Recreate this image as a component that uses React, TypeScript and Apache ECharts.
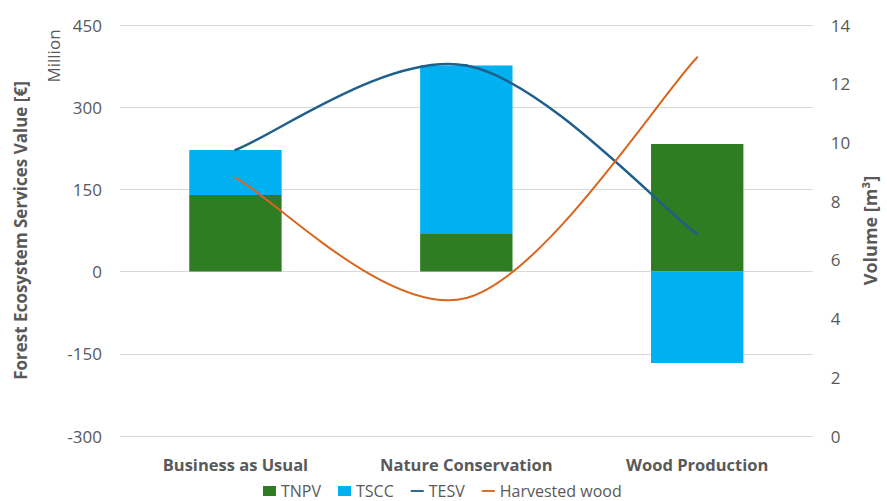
import React, { useEffect, useRef } from "react";
import * as echarts from "echarts";

const categories = ["Business as Usual", "Nature Conservation", "Wood Production"];
const tnpv = [140, 70, 233];
const tscc = [82, 306, -167];
const tesv = [222, 376, 68];
const harvestedWood = [8.8, 4.7, 12.9];
const leftTicks = { min: -300, max: 450, interval: 150 };
const rightTicks = { min: 0, max: 14, interval: 2 };

const FONT = "Open Sans";
const GRAY = "#595959";
const GREEN = "#2E7D23";
const BLUE = "#00B0F0";
const NAVY = "#1F5F8B";
const ORANGE = "#D9661F";

// Spline (Catmull-Rom, like a spreadsheet "smoothed line") drawn through the axis scales
function splineSeries(name: string, values: number[], color: string, width: number, yAxisIndex: number) {
  return {
    name,
    type: "custom",
    yAxisIndex,
    silent: true,
    z: 10,
    zlevel: 0,
    itemStyle: { color },
    data: values.map((v, i) => [i, v]),
    encode: { x: 0, y: 1 },
    renderItem: (params: any, api: any) => {
      const i = params.dataIndex;
      const n = values.length;
      if (i >= n - 1) return null;
      const pt = (k: number) => {
        const j = Math.max(0, Math.min(n - 1, k));
        return api.coord([j, values[j]]);
      };
      const p0 = pt(i - 1);
      const p1 = pt(i);
      const p2 = pt(i + 1);
      const p3 = pt(i + 2);
      return {
        type: "bezierCurve",
        z2: 10,
        shape: {
          x1: p1[0],
          y1: p1[1],
          cpx1: p1[0] + (p2[0] - p0[0]) / 6,
          cpy1: p1[1] + (p2[1] - p0[1]) / 6,
          cpx2: p2[0] - (p3[0] - p1[0]) / 6,
          cpy2: p2[1] - (p3[1] - p1[1]) / 6,
          x2: p2[0],
          y2: p2[1],
        },
        style: { stroke: color, lineWidth: width, fill: "none", lineCap: "round" },
      };
    },
  };
}

export default function App() {
  const ref = useRef<HTMLDivElement>(null);
  useEffect(() => {
    if (!ref.current) return;
    const chart = echarts.init(ref.current, null, { renderer: "svg" });
    const lineIcon = "path://M0,0 L14,0 L14,2 L0,2 Z";
    chart.setOption({
      animation: false,
      textStyle: { fontFamily: FONT },
      grid: { left: 120, right: 65, top: 25, bottom: 65, containLabel: false },
      legend: {
        bottom: -3,
        left: 258,
        itemGap: 17,
        itemWidth: 13,
        itemHeight: 10,
        textStyle: { color: GRAY, fontSize: 16, fontFamily: FONT },
        data: [
          { name: "TNPV", icon: "rect" },
          { name: "TSCC", icon: "rect" },
          { name: "TESV", icon: lineIcon },
          { name: "Harvested wood", icon: lineIcon },
        ],
      },
      graphic: [
        {
          type: "text",
          x: 53,
          y: 56,
          rotation: Math.PI / 2,
          style: {
            text: "Million",
            fill: GRAY,
            fontSize: 17,
            fontFamily: FONT,
            align: "center",
            verticalAlign: "middle",
          },
        },
      ],
      xAxis: {
        type: "category",
        data: categories,
        axisLine: { show: false },
        axisTick: { show: false },
        axisLabel: {
          color: GRAY,
          fontSize: 16.5,
          fontWeight: "bold",
          fontFamily: FONT,
          margin: 20,
        },
      },
      yAxis: [
        {
          type: "value",
          min: leftTicks.min,
          max: leftTicks.max,
          interval: leftTicks.interval,
          alignTicks: false,
          name: "Forest Ecosystem Services Value [€]",
          nameLocation: "middle",
          nameGap: 91,
          nameTextStyle: { color: GRAY, fontSize: 17, fontWeight: "bold", fontFamily: FONT },
          axisLine: { show: false },
          axisTick: { show: false },
          axisLabel: { color: GRAY, fontSize: 17, fontFamily: FONT, margin: 18 },
          splitLine: { lineStyle: { color: "#d9d9d9", width: 1 } },
        },
        {
          type: "value",
          min: rightTicks.min,
          max: rightTicks.max,
          interval: rightTicks.interval,
          alignTicks: false,
          name: "Volume [m³]",
          nameLocation: "middle",
          nameGap: 44,
          nameTextStyle: { color: GRAY, fontSize: 18, fontWeight: "bold", fontFamily: FONT },
          axisLine: { show: false },
          axisTick: { show: false },
          axisLabel: { color: GRAY, fontSize: 17, fontFamily: FONT, margin: 18 },
          splitLine: { show: false },
        },
      ],
      series: [
        {
          name: "TNPV",
          type: "bar",
          stack: "total",
          z: 2,
          data: tnpv,
          barCategoryGap: "60%",
          itemStyle: { color: GREEN },
        },
        {
          name: "TSCC",
          type: "bar",
          stack: "total",
          z: 2,
          data: tscc,
          barCategoryGap: "60%",
          itemStyle: { color: BLUE },
        },
        splineSeries("TESV", tesv, NAVY, 2.5, 0),
        splineSeries("Harvested wood", harvestedWood, ORANGE, 2, 1),
      ],
    });
    return () => chart.dispose();
  }, []);
  return <div ref={ref} style={{ width: 887, height: 501, position: "absolute", left: 0, top: 0 }} />;
}
